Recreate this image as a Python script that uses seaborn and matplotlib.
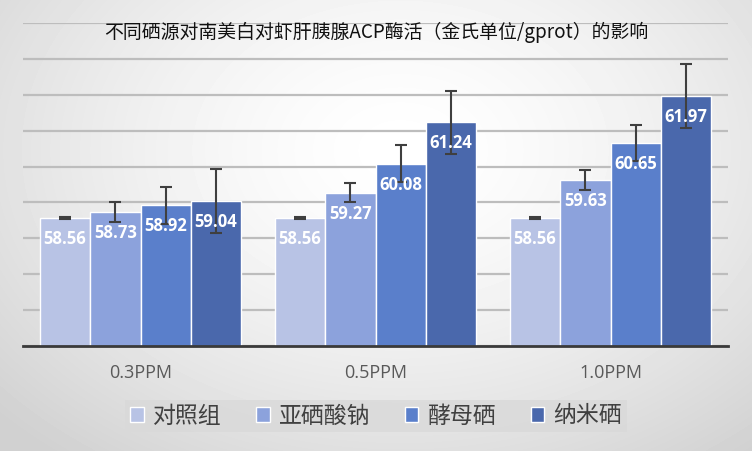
import numpy as np
import pandas as pd
import matplotlib
matplotlib.use('Agg')
import matplotlib.pyplot as plt
from matplotlib.patches import Patch
import seaborn as sns

# chart data
groups = ['0.3PPM', '0.5PPM', '1.0PPM']
series = ['对照组', '亚硒酸钠', '酵母硒', '纳米硒']
control = [58.56, 58.56, 58.56]
selenite = [58.73, 59.27, 59.63]
yeast_se = [58.92, 60.08, 60.65]
nano_se = [59.04, 61.24, 61.97]
control_err = [0.02, 0.02, 0.02]
selenite_err = [0.27, 0.27, 0.27]
yeast_se_err = [0.51, 0.52, 0.50]
nano_se_err = [0.88, 0.88, 0.89]

values = [control, selenite, yeast_se, nano_se]
errors = [control_err, selenite_err, yeast_se_err, nano_se_err]
colors = ['#b8c3e5', '#8ca2dc', '#5a7fcb', '#4a68ac']

rows = []
for s, vals in zip(series, values):
    for g, v in zip(groups, vals):
        rows.append({'group': g, 'series': s, 'value': v})
df = pd.DataFrame(rows)

sns.set_style('white')
plt.rcParams['font.family'] = ['Noto Sans CJK SC', 'DejaVu Sans']

fig = plt.figure(figsize=(7.52, 4.51), dpi=100)

# soft radial background
bg = fig.add_axes([0, 0, 1, 1], zorder=-10)
yy, xx = np.mgrid[0:451, 0:752]
r = np.sqrt(((xx - 400) / 500.0) ** 2 + ((yy - 150) / 360.0) ** 2)
shade = np.clip(1.0 - 0.16 * r ** 1.5, 0.82, 1.0)
bg.imshow(shade, cmap='gray', vmin=0, vmax=1, aspect='auto', interpolation='bilinear')
bg.axis('off')

ax = fig.add_axes([23 / 752, 1 - 345.7 / 451, 705 / 752, (345.7 - 23.3) / 451])
ax.set_facecolor('none')

sns.barplot(data=df, x='group', y='value', hue='series', hue_order=series,
            palette=colors, saturation=1, width=0.856, errorbar=None,
            edgecolor='white', linewidth=1, ax=ax, legend=False)

for cont, vals, errs in zip(ax.containers, values, errors):
    xs = [b.get_x() + b.get_width() / 2 for b in cont]
    ax.errorbar(xs, vals, yerr=errs, fmt='none', ecolor='#3f3f3f',
                elinewidth=1.5, capsize=4.5, capthick=1.5, zorder=5)
    for x, v in zip(xs, vals):
        ax.annotate(f'{v:.2f}', (x, v), xytext=(0, -15), textcoords='offset points',
                    ha='center', va='center', color='white', fontsize=12,
                    fontweight='bold', family=['Open Sans', 'DejaVu Sans'], zorder=6)

ax.set_xlim(-0.5, len(groups) - 0.5)
ax.set_ylim(55, 64)
ax.set_yticks(np.arange(55, 65, 1))
ax.set_yticklabels([])
ax.yaxis.grid(True, color='#bdbdbd', linewidth=1.6)
ax.set_axisbelow(True)
ax.tick_params(axis='y', length=0)
ax.tick_params(axis='x', length=0, pad=13, labelsize=13, labelcolor='#595959')
for lab in ax.get_xticklabels():
    lab.set_fontfamily(['Open Sans', 'DejaVu Sans'])
ax.set_xlabel('')
ax.set_ylabel('')
for side in ['top', 'left', 'right']:
    ax.spines[side].set_visible(False)
ax.spines['bottom'].set_color('#3a3a3a')
ax.spines['bottom'].set_linewidth(2)

fig.text(0.5, 1 - 32 / 451, '不同硒源对南美白对虾肝胰腺ACP酶活（金氏单位/gprot）的影响',
         ha='center', va='center', fontsize=13.6, color='#111111')

handles = [Patch(facecolor=c, edgecolor='white', linewidth=1) for c in colors]
leg = fig.legend(handles, series, loc='center', bbox_to_anchor=(0.5, 1 - 416 / 451),
                 ncol=4, frameon=True, fontsize=16.5, handlelength=0.6, handleheight=0.6,
                 handletextpad=0.4, columnspacing=1.5, borderpad=0.2, fancybox=False)
leg.get_frame().set_facecolor('#d9d9d9')
leg.get_frame().set_edgecolor('none')
leg.get_frame().set_alpha(0.8)
for t in leg.get_texts():
    t.set_color('#404040')

fig.savefig('out.png', dpi=100)
